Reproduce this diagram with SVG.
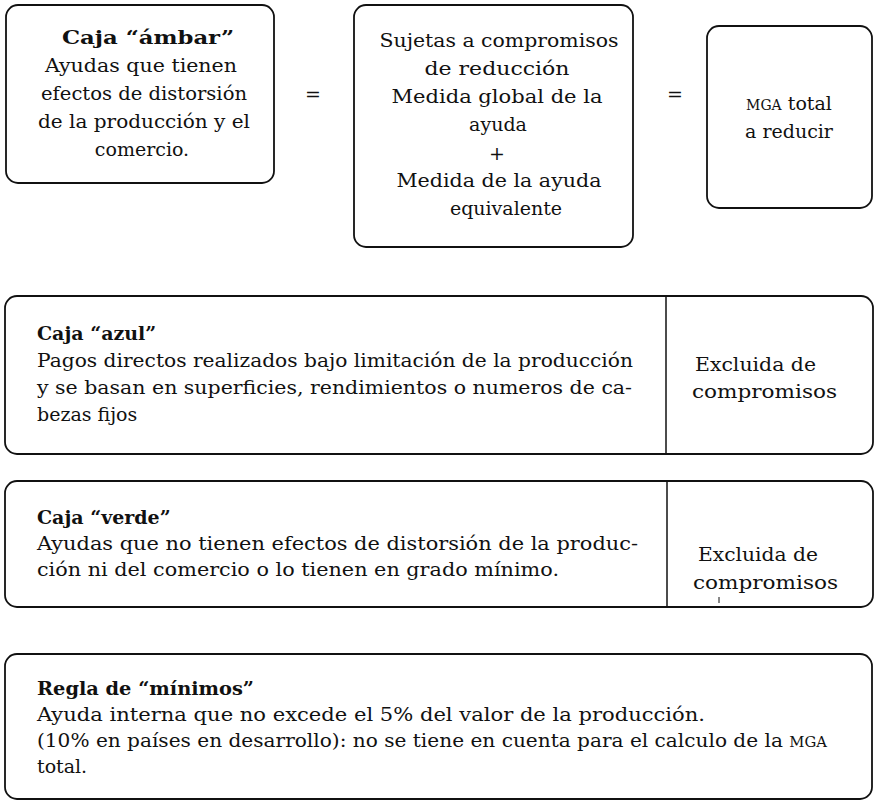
<svg xmlns="http://www.w3.org/2000/svg" width="877" height="805" viewBox="0 0 877 805">
<style>
.box{fill:#fff;stroke:#111;stroke-width:1.8}
.div{stroke:#111;stroke-width:1.5}
text{font-family:"DejaVu Serif","Liberation Serif",serif;font-size:19px;fill:#111}
.c{text-anchor:middle}
.b{font-weight:bold}
.sc{font-size:14px}
</style>
<rect width="877" height="805" fill="#fff"/>
<g id="ambar">
<rect class="box" x="6" y="5" width="268" height="178" rx="12"/>
<text class="c b" x="148" y="44" textLength="172" lengthAdjust="spacingAndGlyphs">Caja “ámbar”</text>
<text class="c" x="141" y="72" textLength="192" lengthAdjust="spacingAndGlyphs">Ayudas que tienen</text>
<text class="c" x="144" y="100" textLength="206" lengthAdjust="spacingAndGlyphs">efectos de distorsión</text>
<text class="c" x="144" y="128" textLength="212" lengthAdjust="spacingAndGlyphs">de la producción y el</text>
<text class="c" x="142" y="156">comercio.</text>
</g>
<g id="eq1"><text class="c" x="313" y="101">=</text></g>
<g id="sujetas">
<rect class="box" x="354" y="5" width="279" height="242" rx="12"/>
<text class="c" x="499" y="47" textLength="239" lengthAdjust="spacingAndGlyphs">Sujetas a compromisos</text>
<text class="c" x="497" y="75" textLength="145" lengthAdjust="spacingAndGlyphs">de reducción</text>
<text class="c" x="497" y="103" textLength="211" lengthAdjust="spacingAndGlyphs">Medida global de la</text>
<text class="c" x="498" y="131">ayuda</text>
<text class="c" x="497" y="160">+</text>
<text class="c" x="499" y="187" textLength="205" lengthAdjust="spacingAndGlyphs">Medida de la ayuda</text>
<text class="c" x="506" y="215">equivalente</text>
</g>
<g id="eq2"><text class="c" x="675" y="101">=</text></g>
<g id="mga">
<rect class="box" x="707" y="26" width="165" height="182" rx="12"/>
<text class="c" x="789" y="110"><tspan class="sc">MGA</tspan> total</text>
<text class="c" x="789" y="138">a reducir</text>
</g>
<g id="azul">
<rect class="box" x="5" y="296" width="868" height="158" rx="12"/>
<line class="div" x1="666" y1="296" x2="666" y2="454"/>
<text class="b" x="37" y="340">Caja “azul”</text>
<text x="37" y="367" textLength="596" lengthAdjust="spacingAndGlyphs">Pagos directos realizados bajo limitación de la producción</text>
<text x="37" y="394" textLength="595" lengthAdjust="spacingAndGlyphs">y se basan en superficies, rendimientos o numeros de ca-</text>
<text x="37" y="421">bezas fijos</text>
<text x="695" y="371" textLength="121" lengthAdjust="spacingAndGlyphs">Excluida de</text>
<text x="692" y="398" textLength="145" lengthAdjust="spacingAndGlyphs">compromisos</text>
</g>
<g id="verde">
<rect class="box" x="5" y="481" width="868" height="126" rx="12"/>
<line class="div" x1="667" y1="481" x2="667" y2="607"/>
<text class="b" x="37" y="524">Caja “verde”</text>
<text x="37" y="550" textLength="601" lengthAdjust="spacingAndGlyphs">Ayudas que no tienen efectos de distorsión de la produc-</text>
<text x="37" y="576" textLength="522" lengthAdjust="spacingAndGlyphs">ción ni del comercio o lo tienen en grado mínimo.</text>
<text x="698" y="561" textLength="120" lengthAdjust="spacingAndGlyphs">Excluida de</text>
<text x="693" y="589" textLength="145" lengthAdjust="spacingAndGlyphs">compromisos</text>
<line x1="719" y1="597" x2="719" y2="603" stroke="#111" stroke-width="1"/>
</g>
<g id="minimos">
<rect class="box" x="5" y="654" width="867" height="145" rx="12"/>
<text class="b" x="37" y="695" textLength="217" lengthAdjust="spacingAndGlyphs">Regla de “mínimos”</text>
<text x="37" y="721" textLength="668" lengthAdjust="spacingAndGlyphs">Ayuda interna que no excede el 5% del valor de la producción.</text>
<text x="37" y="747" textLength="790" lengthAdjust="spacingAndGlyphs">(10% en países en desarrollo): no se tiene en cuenta para el calculo de la <tspan class="sc">MGA</tspan></text>
<text x="37" y="773">total.</text>
</g>
<g id="connectors"></g>
</svg>
